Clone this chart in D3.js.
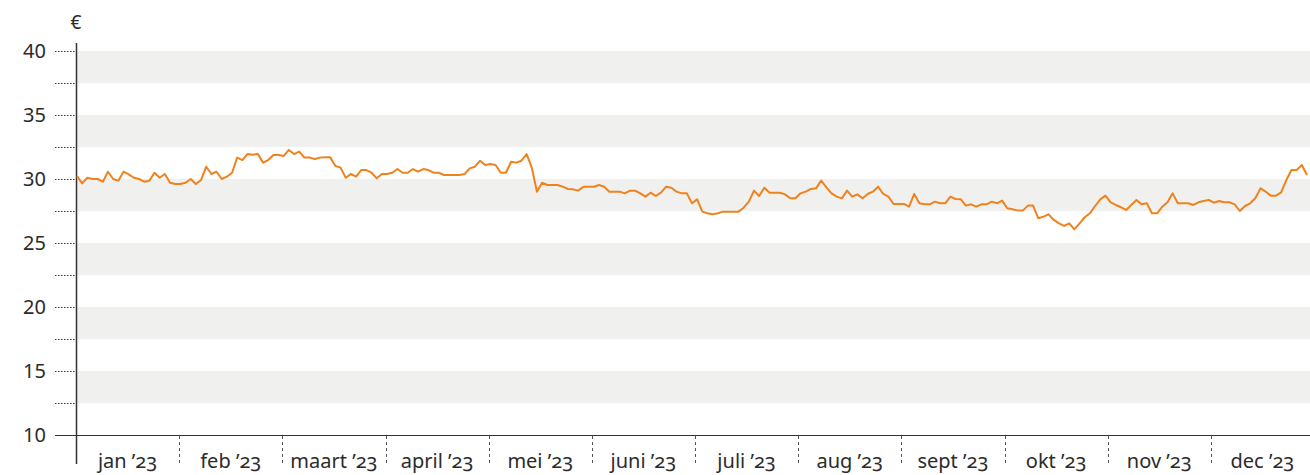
<!DOCTYPE html>
<html>
<head>
<meta charset="utf-8">
<script src="https://cdn.jsdelivr.net/npm/d3@7"></script>
<style>
  body { margin: 0; background: #fff; }
  svg text { font-family: "Noto Sans", "Open Sans", sans-serif; fill: #2b2b2b; }
  .maand { font-variant-numeric: oldstyle-nums; }
</style>
</head>
<body>
<svg id="chart" width="1310" height="475"></svg>
<script>
var maanden = ["jan \u201923","feb \u201923","maart \u201923","april \u201923","mei \u201923","juni \u201923",
               "juli \u201923","aug \u201923","sept \u201923","okt \u201923","nov \u201923","dec \u201923"];

var yLabels = [10, 15, 20, 25, 30, 35, 40];

var koers = [
  30.23, 29.66, 30.10, 30.00, 30.00, 29.79, 30.57, 30.00, 29.87, 30.57,
  30.36, 30.10, 30.00, 29.79, 29.87, 30.49, 30.10, 30.39, 29.71, 29.61,
  29.61, 29.71, 30.00, 29.61, 29.92, 30.96, 30.39, 30.57, 30.00, 30.18,
  30.49, 31.67, 31.48, 31.95, 31.90, 31.95, 31.28, 31.48, 31.88, 31.88,
  31.80, 32.27, 31.95, 32.14, 31.67, 31.67, 31.56, 31.67,
  31.69, 31.69, 31.02, 30.89, 30.10, 30.39, 30.18, 30.70, 30.70, 30.49,
  30.05, 30.39, 30.39, 30.49, 30.78, 30.49, 30.49, 30.78, 30.57, 30.78,
  30.70, 30.49, 30.49, 30.31, 30.31, 30.31, 30.31, 30.39, 30.83, 30.96,
  31.43, 31.09, 31.17, 31.09, 30.49, 30.49, 31.35, 31.28, 31.43, 31.95,
  30.89, 29.01, 29.71, 29.53, 29.53, 29.53, 29.40,
  29.22, 29.19, 29.09, 29.40, 29.40, 29.40, 29.53, 29.40, 29.01,
  29.01, 29.01, 28.88, 29.09, 29.09, 28.88, 28.62, 28.93, 28.67, 28.93,
  29.40, 29.32, 29.01, 28.88, 28.88, 28.10, 28.41, 27.45, 27.32, 27.24,
  27.32, 27.45, 27.45, 27.45, 27.45, 27.76, 28.23, 29.09, 28.67, 29.32,
  28.93, 28.93, 28.93, 28.80, 28.49, 28.49, 28.88, 29.01, 29.22,
  29.27, 29.87, 29.35, 28.88, 28.62, 28.49, 29.09, 28.62, 28.80, 28.49,
  28.83, 29.01, 29.40, 28.83, 28.62, 28.05, 28.05, 28.05, 27.84, 28.83,
  28.10, 28.02, 28.02, 28.23, 28.10, 28.10, 28.62, 28.44, 28.41, 27.92,
  28.02, 27.84, 28.02, 28.02, 28.23, 28.10, 28.31, 27.71, 27.63, 27.53,
  27.53, 27.92, 27.92, 26.93, 27.06, 27.24, 26.80,
  26.54, 26.33, 26.54, 26.07, 26.54, 27.01, 27.32, 27.89, 28.41, 28.70,
  28.18, 27.97, 27.79, 27.58, 27.97, 28.36, 28.02, 28.10, 27.32, 27.32,
  27.84, 28.18, 28.88, 28.10, 28.10, 28.10, 27.97, 28.18, 28.28, 28.36,
  28.15, 28.28, 28.18, 28.18, 28.02, 27.50, 27.89, 28.10, 28.49, 29.27,
  29.01, 28.70, 28.70, 28.96, 29.92, 30.70, 30.70, 31.09, 30.31
];

var svg = d3.select("#chart"),
    plotLeft = 76,
    plotRight = 1310,
    plotTop = 51,
    plotBottom = 435;

var y = d3.scaleLinear().domain([10, 40]).range([plotBottom, plotTop]);

var xMaand = d3.scaleBand().domain(maanden).range([plotLeft, 1314]);

var x = d3.scaleLinear().domain([0, koers.length - 1]).range([77, 1307]);

// grijze banden
var banden = d3.range(10, 40, 5);
svg.append("g")
  .selectAll("rect")
  .data(banden)
  .enter().append("rect")
    .attr("x", plotLeft)
    .attr("width", plotRight - plotLeft)
    .attr("y", function(d) { return y(d + 5); })
    .attr("height", function(d) { return y(d + 2.5) - y(d + 5); })
    .style("fill", "#f0f0ef");

// stippel ticks
var ticks = d3.range(12.5, 40.01, 2.5);
svg.append("g")
  .selectAll("line")
  .data(ticks)
  .enter().append("line")
    .attr("x1", 55).attr("x2", plotLeft)
    .attr("y1", function(d) { return Math.round(y(d)) + 0.5; })
    .attr("y2", function(d) { return Math.round(y(d)) + 0.5; })
    .style("stroke", "#333")
    .style("stroke-dasharray", "1.5,1.5");

svg.append("g")
  .selectAll("text")
  .data(yLabels)
  .enter().append("text")
    .attr("x", 46)
    .attr("y", function(d) { return y(d); })
    .attr("dy", "0.35em")
    .attr("text-anchor", "end")
    .style("font-size", "20px")
    .text(function(d) { return d; });

svg.append("text")
  .attr("x", 76).attr("y", 29)
  .attr("text-anchor", "middle")
  .style("font-size", "19px")
  .text("\u20ac");

// basislijn en y-as
svg.append("line")
  .attr("x1", 55).attr("x2", plotRight)
  .attr("y1", plotBottom + 0.5).attr("y2", plotBottom + 0.5)
  .style("stroke", "#333");

svg.append("line")
  .attr("x1", plotLeft + 0.5).attr("x2", plotLeft + 0.5)
  .attr("y1", 43).attr("y2", 464)
  .style("stroke", "#333")
  .style("stroke-width", 1.5);

// maandscheidingen
svg.append("g")
  .selectAll("line")
  .data(maanden.slice(1))
  .enter().append("line")
    .attr("x1", function(d) { return Math.round(xMaand(d)) + 0.5; })
    .attr("x2", function(d) { return Math.round(xMaand(d)) + 0.5; })
    .attr("y1", plotBottom + 1).attr("y2", 465)
    .style("stroke", "#555")
    .style("stroke-dasharray", "3,3");

svg.append("g")
  .selectAll("text")
  .data(maanden)
  .enter().append("text")
    .attr("class", "maand")
    .attr("x", function(d) { return xMaand(d) + xMaand.bandwidth() / 2; })
    .attr("y", 468)
    .attr("text-anchor", "middle")
    .style("font-size", "20px")
    .text(function(d) { return d; });

// koerslijn
var line = d3.line()
  .x(function(d, i) { return x(i); })
  .y(function(d) { return y(d); });

svg.append("path")
  .datum(koers)
  .attr("d", line)
  .style("fill", "none")
  .style("stroke", "#f0821e")
  .style("stroke-width", 2)
  .style("stroke-linejoin", "round");
</script>
</body>
</html>
